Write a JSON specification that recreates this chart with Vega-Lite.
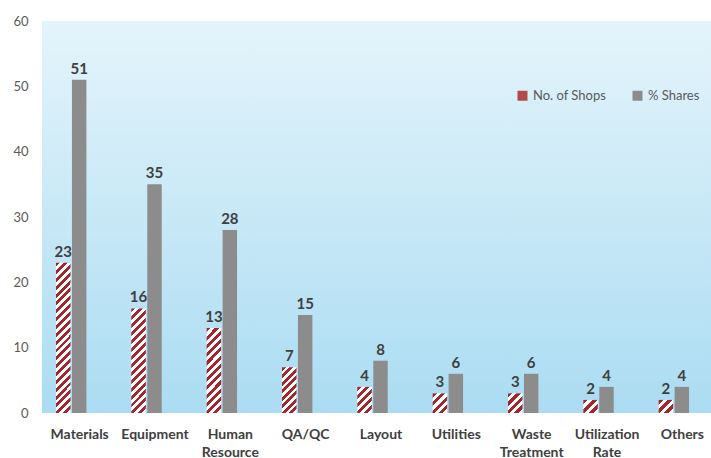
{
  "$schema": "https://vega.github.io/schema/vega-lite/v6.json",
  "width": 678,
  "height": 392,
  "padding": {"left": 12, "top": 15, "right": 0, "bottom": 0},
  "background": "white",
  "config": {
    "font": "Lato",
    "view": {"stroke": null, "fill": {"gradient": "linear", "x1": 0, "y1": 0, "x2": 0, "y2": 1, "stops": [{"offset": 0, "color": "#e4f4fb"}, {"offset": 1, "color": "#abdcf2"}]}}
  },
  "data": {
    "values": [
      {"category": "Materials", "series": "No. of Shops", "value": 23},
      {"category": "Materials", "series": "% Shares", "value": 51},
      {"category": "Equipment", "series": "No. of Shops", "value": 16},
      {"category": "Equipment", "series": "% Shares", "value": 35},
      {"category": "Human Resource", "series": "No. of Shops", "value": 13},
      {"category": "Human Resource", "series": "% Shares", "value": 28},
      {"category": "QA/QC", "series": "No. of Shops", "value": 7},
      {"category": "QA/QC", "series": "% Shares", "value": 15},
      {"category": "Layout", "series": "No. of Shops", "value": 4},
      {"category": "Layout", "series": "% Shares", "value": 8},
      {"category": "Utilities", "series": "No. of Shops", "value": 3},
      {"category": "Utilities", "series": "% Shares", "value": 6},
      {"category": "Waste Treatment", "series": "No. of Shops", "value": 3},
      {"category": "Waste Treatment", "series": "% Shares", "value": 6},
      {"category": "Utilization Rate", "series": "No. of Shops", "value": 2},
      {"category": "Utilization Rate", "series": "% Shares", "value": 4},
      {"category": "Others", "series": "No. of Shops", "value": 2},
      {"category": "Others", "series": "% Shares", "value": 4}
    ]
  },
  "encoding": {
    "x": {
      "field": "category", "type": "nominal",
      "sort": ["Materials", "Equipment", "Human Resource", "QA/QC", "Layout", "Utilities", "Waste Treatment", "Utilization Rate", "Others"],
      "scale": {"paddingInner": 0, "paddingOuter": 0},
      "axis": {"title": null, "labelAngle": 0, "labelExpr": "split(datum.label, ' ')", "labelFontSize": 14, "labelFontWeight": "bold", "labelColor": "#404040", "labelPadding": 14, "labelLineHeight": 18, "ticks": false, "domain": false}
    },
    "xOffset": {
      "field": "series", "type": "nominal",
      "scale": {"domain": ["No. of Shops", "% Shares"], "range": [14, 44.4], "paddingInner": 0.094, "paddingOuter": 0}
    },
    "y": {
      "field": "value", "type": "quantitative",
      "scale": {"domain": [0, 60]},
      "axis": {"title": null, "values": [0, 10, 20, 30, 40, 50, 60], "ticks": false, "domain": false, "grid": false, "labelFontSize": 13, "labelColor": "#595959", "labelPadding": 14}
    }
  },
  "layer": [
    {
      "mark": {"type": "bar"},
      "encoding": {
        "fill": {
          "field": "series", "type": "nominal",
          "scale": {"domain": ["No. of Shops", "% Shares"], "range": ["#b5484c", "#8c8c8c"]},
          "legend": {"title": null, "orient": "none", "legendX": 474, "legendY": 68, "direction": "horizontal", "symbolType": "square", "symbolSize": 100, "symbolStrokeWidth": 0, "labelFontSize": 13, "labelColor": "#595959", "columnPadding": 24, "labelOffset": 4},
          "condition": [
            {"test": "datum.series === 'No. of Shops' && datum.value === 23", "value": {"gradient": "linear", "x1": 0, "y1": 0, "x2": 0.1048, "y2": 1.0864, "stops": [
              {"offset": 0.0238, "color": "#a3272d"}, {"offset": 0.0238, "color": "#fff"},
              {"offset": 0.0476, "color": "#fff"}, {"offset": 0.0476, "color": "#a3272d"},
              {"offset": 0.0714, "color": "#a3272d"}, {"offset": 0.0714, "color": "#fff"},
              {"offset": 0.0952, "color": "#fff"}, {"offset": 0.0952, "color": "#a3272d"},
              {"offset": 0.1190, "color": "#a3272d"}, {"offset": 0.1190, "color": "#fff"},
              {"offset": 0.1429, "color": "#fff"}, {"offset": 0.1429, "color": "#a3272d"},
              {"offset": 0.1667, "color": "#a3272d"}, {"offset": 0.1667, "color": "#fff"},
              {"offset": 0.1905, "color": "#fff"}, {"offset": 0.1905, "color": "#a3272d"},
              {"offset": 0.2143, "color": "#a3272d"}, {"offset": 0.2143, "color": "#fff"},
              {"offset": 0.2381, "color": "#fff"}, {"offset": 0.2381, "color": "#a3272d"},
              {"offset": 0.2619, "color": "#a3272d"}, {"offset": 0.2619, "color": "#fff"},
              {"offset": 0.2857, "color": "#fff"}, {"offset": 0.2857, "color": "#a3272d"},
              {"offset": 0.3095, "color": "#a3272d"}, {"offset": 0.3095, "color": "#fff"},
              {"offset": 0.3333, "color": "#fff"}, {"offset": 0.3333, "color": "#a3272d"},
              {"offset": 0.3571, "color": "#a3272d"}, {"offset": 0.3571, "color": "#fff"},
              {"offset": 0.3810, "color": "#fff"}, {"offset": 0.3810, "color": "#a3272d"},
              {"offset": 0.4048, "color": "#a3272d"}, {"offset": 0.4048, "color": "#fff"},
              {"offset": 0.4286, "color": "#fff"}, {"offset": 0.4286, "color": "#a3272d"},
              {"offset": 0.4524, "color": "#a3272d"}, {"offset": 0.4524, "color": "#fff"},
              {"offset": 0.4762, "color": "#fff"}, {"offset": 0.4762, "color": "#a3272d"},
              {"offset": 0.5000, "color": "#a3272d"}, {"offset": 0.5000, "color": "#fff"},
              {"offset": 0.5238, "color": "#fff"}, {"offset": 0.5238, "color": "#a3272d"},
              {"offset": 0.5476, "color": "#a3272d"}, {"offset": 0.5476, "color": "#fff"},
              {"offset": 0.5714, "color": "#fff"}, {"offset": 0.5714, "color": "#a3272d"},
              {"offset": 0.5952, "color": "#a3272d"}, {"offset": 0.5952, "color": "#fff"},
              {"offset": 0.6190, "color": "#fff"}, {"offset": 0.6190, "color": "#a3272d"},
              {"offset": 0.6429, "color": "#a3272d"}, {"offset": 0.6429, "color": "#fff"},
              {"offset": 0.6667, "color": "#fff"}, {"offset": 0.6667, "color": "#a3272d"},
              {"offset": 0.6905, "color": "#a3272d"}, {"offset": 0.6905, "color": "#fff"},
              {"offset": 0.7143, "color": "#fff"}, {"offset": 0.7143, "color": "#a3272d"},
              {"offset": 0.7381, "color": "#a3272d"}, {"offset": 0.7381, "color": "#fff"},
              {"offset": 0.7619, "color": "#fff"}, {"offset": 0.7619, "color": "#a3272d"},
              {"offset": 0.7857, "color": "#a3272d"}, {"offset": 0.7857, "color": "#fff"},
              {"offset": 0.8095, "color": "#fff"}, {"offset": 0.8095, "color": "#a3272d"},
              {"offset": 0.8333, "color": "#a3272d"}, {"offset": 0.8333, "color": "#fff"},
              {"offset": 0.8571, "color": "#fff"}, {"offset": 0.8571, "color": "#a3272d"},
              {"offset": 0.8810, "color": "#a3272d"}, {"offset": 0.8810, "color": "#fff"},
              {"offset": 0.9048, "color": "#fff"}, {"offset": 0.9048, "color": "#a3272d"},
              {"offset": 0.9286, "color": "#a3272d"}, {"offset": 0.9286, "color": "#fff"},
              {"offset": 0.9524, "color": "#fff"}, {"offset": 0.9524, "color": "#a3272d"},
              {"offset": 0.9762, "color": "#a3272d"}, {"offset": 0.9762, "color": "#fff"}
            ]}},
            {"test": "datum.series === 'No. of Shops' && datum.value === 16", "value": {"gradient": "linear", "x1": 0, "y1": 0, "x2": 0.1550, "y2": 1.1172, "stops": [
              {"offset": 0.0333, "color": "#a3272d"}, {"offset": 0.0333, "color": "#fff"},
              {"offset": 0.0667, "color": "#fff"}, {"offset": 0.0667, "color": "#a3272d"},
              {"offset": 0.1000, "color": "#a3272d"}, {"offset": 0.1000, "color": "#fff"},
              {"offset": 0.1333, "color": "#fff"}, {"offset": 0.1333, "color": "#a3272d"},
              {"offset": 0.1667, "color": "#a3272d"}, {"offset": 0.1667, "color": "#fff"},
              {"offset": 0.2000, "color": "#fff"}, {"offset": 0.2000, "color": "#a3272d"},
              {"offset": 0.2333, "color": "#a3272d"}, {"offset": 0.2333, "color": "#fff"},
              {"offset": 0.2667, "color": "#fff"}, {"offset": 0.2667, "color": "#a3272d"},
              {"offset": 0.3000, "color": "#a3272d"}, {"offset": 0.3000, "color": "#fff"},
              {"offset": 0.3333, "color": "#fff"}, {"offset": 0.3333, "color": "#a3272d"},
              {"offset": 0.3667, "color": "#a3272d"}, {"offset": 0.3667, "color": "#fff"},
              {"offset": 0.4000, "color": "#fff"}, {"offset": 0.4000, "color": "#a3272d"},
              {"offset": 0.4333, "color": "#a3272d"}, {"offset": 0.4333, "color": "#fff"},
              {"offset": 0.4667, "color": "#fff"}, {"offset": 0.4667, "color": "#a3272d"},
              {"offset": 0.5000, "color": "#a3272d"}, {"offset": 0.5000, "color": "#fff"},
              {"offset": 0.5333, "color": "#fff"}, {"offset": 0.5333, "color": "#a3272d"},
              {"offset": 0.5667, "color": "#a3272d"}, {"offset": 0.5667, "color": "#fff"},
              {"offset": 0.6000, "color": "#fff"}, {"offset": 0.6000, "color": "#a3272d"},
              {"offset": 0.6333, "color": "#a3272d"}, {"offset": 0.6333, "color": "#fff"},
              {"offset": 0.6667, "color": "#fff"}, {"offset": 0.6667, "color": "#a3272d"},
              {"offset": 0.7000, "color": "#a3272d"}, {"offset": 0.7000, "color": "#fff"},
              {"offset": 0.7333, "color": "#fff"}, {"offset": 0.7333, "color": "#a3272d"},
              {"offset": 0.7667, "color": "#a3272d"}, {"offset": 0.7667, "color": "#fff"},
              {"offset": 0.8000, "color": "#fff"}, {"offset": 0.8000, "color": "#a3272d"},
              {"offset": 0.8333, "color": "#a3272d"}, {"offset": 0.8333, "color": "#fff"},
              {"offset": 0.8667, "color": "#fff"}, {"offset": 0.8667, "color": "#a3272d"},
              {"offset": 0.9000, "color": "#a3272d"}, {"offset": 0.9000, "color": "#fff"},
              {"offset": 0.9333, "color": "#fff"}, {"offset": 0.9333, "color": "#a3272d"},
              {"offset": 0.9667, "color": "#a3272d"}, {"offset": 0.9667, "color": "#fff"}
            ]}},
            {"test": "datum.series === 'No. of Shops' && datum.value === 13", "value": {"gradient": "linear", "x1": 0, "y1": 0, "x2": 0.1942, "y2": 1.1376, "stops": [
              {"offset": 0.0417, "color": "#a3272d"}, {"offset": 0.0417, "color": "#fff"},
              {"offset": 0.0833, "color": "#fff"}, {"offset": 0.0833, "color": "#a3272d"},
              {"offset": 0.1250, "color": "#a3272d"}, {"offset": 0.1250, "color": "#fff"},
              {"offset": 0.1667, "color": "#fff"}, {"offset": 0.1667, "color": "#a3272d"},
              {"offset": 0.2083, "color": "#a3272d"}, {"offset": 0.2083, "color": "#fff"},
              {"offset": 0.2500, "color": "#fff"}, {"offset": 0.2500, "color": "#a3272d"},
              {"offset": 0.2917, "color": "#a3272d"}, {"offset": 0.2917, "color": "#fff"},
              {"offset": 0.3333, "color": "#fff"}, {"offset": 0.3333, "color": "#a3272d"},
              {"offset": 0.3750, "color": "#a3272d"}, {"offset": 0.3750, "color": "#fff"},
              {"offset": 0.4167, "color": "#fff"}, {"offset": 0.4167, "color": "#a3272d"},
              {"offset": 0.4583, "color": "#a3272d"}, {"offset": 0.4583, "color": "#fff"},
              {"offset": 0.5000, "color": "#fff"}, {"offset": 0.5000, "color": "#a3272d"},
              {"offset": 0.5417, "color": "#a3272d"}, {"offset": 0.5417, "color": "#fff"},
              {"offset": 0.5833, "color": "#fff"}, {"offset": 0.5833, "color": "#a3272d"},
              {"offset": 0.6250, "color": "#a3272d"}, {"offset": 0.6250, "color": "#fff"},
              {"offset": 0.6667, "color": "#fff"}, {"offset": 0.6667, "color": "#a3272d"},
              {"offset": 0.7083, "color": "#a3272d"}, {"offset": 0.7083, "color": "#fff"},
              {"offset": 0.7500, "color": "#fff"}, {"offset": 0.7500, "color": "#a3272d"},
              {"offset": 0.7917, "color": "#a3272d"}, {"offset": 0.7917, "color": "#fff"},
              {"offset": 0.8333, "color": "#fff"}, {"offset": 0.8333, "color": "#a3272d"},
              {"offset": 0.8750, "color": "#a3272d"}, {"offset": 0.8750, "color": "#fff"},
              {"offset": 0.9167, "color": "#fff"}, {"offset": 0.9167, "color": "#a3272d"},
              {"offset": 0.9583, "color": "#a3272d"}, {"offset": 0.9583, "color": "#fff"}
            ]}},
            {"test": "datum.series === 'No. of Shops' && datum.value === 7", "value": {"gradient": "linear", "x1": 0, "y1": 0, "x2": 0.3794, "y2": 1.1967, "stops": [
              {"offset": 0.0625, "color": "#a3272d"}, {"offset": 0.0625, "color": "#fff"},
              {"offset": 0.1250, "color": "#fff"}, {"offset": 0.1250, "color": "#a3272d"},
              {"offset": 0.1875, "color": "#a3272d"}, {"offset": 0.1875, "color": "#fff"},
              {"offset": 0.2500, "color": "#fff"}, {"offset": 0.2500, "color": "#a3272d"},
              {"offset": 0.3125, "color": "#a3272d"}, {"offset": 0.3125, "color": "#fff"},
              {"offset": 0.3750, "color": "#fff"}, {"offset": 0.3750, "color": "#a3272d"},
              {"offset": 0.4375, "color": "#a3272d"}, {"offset": 0.4375, "color": "#fff"},
              {"offset": 0.5000, "color": "#fff"}, {"offset": 0.5000, "color": "#a3272d"},
              {"offset": 0.5625, "color": "#a3272d"}, {"offset": 0.5625, "color": "#fff"},
              {"offset": 0.6250, "color": "#fff"}, {"offset": 0.6250, "color": "#a3272d"},
              {"offset": 0.6875, "color": "#a3272d"}, {"offset": 0.6875, "color": "#fff"},
              {"offset": 0.7500, "color": "#fff"}, {"offset": 0.7500, "color": "#a3272d"},
              {"offset": 0.8125, "color": "#a3272d"}, {"offset": 0.8125, "color": "#fff"},
              {"offset": 0.8750, "color": "#fff"}, {"offset": 0.8750, "color": "#a3272d"},
              {"offset": 0.9375, "color": "#a3272d"}, {"offset": 0.9375, "color": "#fff"}
            ]}},
            {"test": "datum.series === 'No. of Shops' && datum.value === 4", "value": {"gradient": "linear", "x1": 0, "y1": 0, "x2": 0.6597, "y2": 1.1889, "stops": [
              {"offset": 0.1, "color": "#a3272d"}, {"offset": 0.1, "color": "#fff"},
              {"offset": 0.2, "color": "#fff"}, {"offset": 0.2, "color": "#a3272d"},
              {"offset": 0.3, "color": "#a3272d"}, {"offset": 0.3, "color": "#fff"},
              {"offset": 0.4, "color": "#fff"}, {"offset": 0.4, "color": "#a3272d"},
              {"offset": 0.5, "color": "#a3272d"}, {"offset": 0.5, "color": "#fff"},
              {"offset": 0.6, "color": "#fff"}, {"offset": 0.6, "color": "#a3272d"},
              {"offset": 0.7, "color": "#a3272d"}, {"offset": 0.7, "color": "#fff"},
              {"offset": 0.8, "color": "#fff"}, {"offset": 0.8, "color": "#a3272d"},
              {"offset": 0.9, "color": "#a3272d"}, {"offset": 0.9, "color": "#fff"}
            ]}},
            {"test": "datum.series === 'No. of Shops' && datum.value === 3", "value": {"gradient": "linear", "x1": 0, "y1": 0, "x2": 0.8319, "y2": 1.1245, "stops": [
              {"offset": 0.125, "color": "#a3272d"}, {"offset": 0.125, "color": "#fff"},
              {"offset": 0.25, "color": "#fff"}, {"offset": 0.25, "color": "#a3272d"},
              {"offset": 0.375, "color": "#a3272d"}, {"offset": 0.375, "color": "#fff"},
              {"offset": 0.5, "color": "#fff"}, {"offset": 0.5, "color": "#a3272d"},
              {"offset": 0.625, "color": "#a3272d"}, {"offset": 0.625, "color": "#fff"},
              {"offset": 0.75, "color": "#fff"}, {"offset": 0.75, "color": "#a3272d"},
              {"offset": 0.875, "color": "#a3272d"}, {"offset": 0.875, "color": "#fff"}
            ]}},
            {"test": "datum.series === 'No. of Shops' && datum.value === 2", "value": {"gradient": "linear", "x1": 0, "y1": 0, "x2": 1.049, "y2": 0.9455, "stops": [
              {"offset": 0.1667, "color": "#a3272d"}, {"offset": 0.1667, "color": "#fff"},
              {"offset": 0.3333, "color": "#fff"}, {"offset": 0.3333, "color": "#a3272d"},
              {"offset": 0.5, "color": "#a3272d"}, {"offset": 0.5, "color": "#fff"},
              {"offset": 0.6667, "color": "#fff"}, {"offset": 0.6667, "color": "#a3272d"},
              {"offset": 0.8333, "color": "#a3272d"}, {"offset": 0.8333, "color": "#fff"}
            ]}}
          ]
        }
      }
    },
    {
      "mark": {"type": "text", "dy": -6, "baseline": "alphabetic", "fontSize": 15, "fontWeight": "bold", "color": "#404040"},
      "encoding": {"text": {"field": "value", "type": "quantitative"}}
    }
  ]
}
